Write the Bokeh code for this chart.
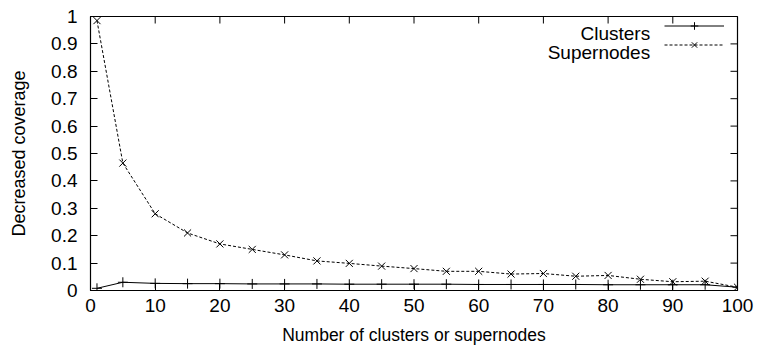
import math
from bokeh.plotting import figure
from bokeh.models import (ColumnDataSource, FixedTicker, Range1d,
                          Legend, LegendItem, Label)
from bokeh.embed import file_html
from bokeh.resources import INLINE

# ---- data ----
sizes = [1, 5, 10, 15, 20, 25, 30, 35, 40, 45, 50, 55, 60, 65, 70, 75, 80, 85, 90, 95, 100]
clusters = [0.008, 0.030, 0.026, 0.025, 0.025, 0.024, 0.024, 0.024, 0.023, 0.023, 0.023,
            0.023, 0.022, 0.022, 0.022, 0.022, 0.021, 0.021, 0.021, 0.021, 0.012]
supernodes = [0.985, 0.465, 0.280, 0.210, 0.170, 0.150, 0.130, 0.108, 0.099, 0.089, 0.080,
              0.070, 0.070, 0.060, 0.062, 0.052, 0.055, 0.041, 0.032, 0.034, 0.012]
series_names = ["Clusters", "Supernodes"]
x_ticks = [0, 10, 20, 30, 40, 50, 60, 70, 80, 90, 100]
x_tick_labels = ["0", "10", "20", "30", "40", "50", "60", "70", "80", "90", "100"]
y_ticks = [0, 0.1, 0.2, 0.3, 0.4, 0.5, 0.6, 0.7, 0.8, 0.9, 1]
y_tick_labels = ["0", "0.1", "0.2", "0.3", "0.4", "0.5", "0.6", "0.7", "0.8", "0.9", "1"]
x_title = "Number of clusters or supernodes"
y_title = "Decreased coverage"

FONT = "Liberation Sans"
TICK_FS = "19px"

src = ColumnDataSource(dict(x=sizes, c=clusters, s=supernodes))

p = figure(width=757, height=347, output_backend="svg", toolbar_location=None,
           x_range=Range1d(0, 100), y_range=Range1d(0, 1),
           min_border_left=90, min_border_right=20, min_border_top=16, min_border_bottom=56)
p.background_fill_color = "white"
p.border_fill_color = "white"
p.outline_line_color = "black"
p.outline_line_width = 1.2
p.grid.visible = False

for ax in (p.xaxis[0], p.yaxis[0]):
    ax.major_tick_in = 7
    ax.major_tick_out = 0
    ax.minor_tick_line_color = None
    ax.axis_line_color = "black"
    ax.major_tick_line_color = "black"
    ax.major_label_text_font = FONT
    ax.major_label_text_font_size = TICK_FS
    ax.major_label_text_color = "black"
    ax.axis_label_text_font = FONT
    ax.axis_label_text_font_style = "normal"
    ax.axis_label_text_color = "black"

p.xaxis[0].ticker = FixedTicker(ticks=x_ticks)
p.xaxis[0].major_label_overrides = dict(zip(x_ticks, x_tick_labels))
p.xaxis[0].axis_label = x_title
p.xaxis[0].axis_label_text_font_size = "17.5px"
p.xaxis[0].major_label_standoff = 8
p.xaxis[0].axis_label_standoff = 10

p.yaxis[0].ticker = FixedTicker(ticks=y_ticks)
p.yaxis[0].major_label_overrides = dict(zip(y_ticks, y_tick_labels))
p.yaxis[0].axis_label = y_title
p.yaxis[0].axis_label_text_font_size = "18px"
p.yaxis[0].major_label_standoff = 13
p.yaxis[0].axis_label_standoff = 19

# mirrored tick marks on the top and right edges (inward, like gnuplot)
p.ray(x=x_ticks, y=[1] * len(x_ticks), length=7, length_units="screen",
      angle=-math.pi / 2, line_color="black", line_width=1)
p.ray(x=[100] * len(y_ticks), y=y_ticks, length=7, length_units="screen",
      angle=math.pi, line_color="black", line_width=1)

# series
rc_line = p.line("x", "c", source=src, line_color="black", line_width=1)
rc_mark = p.scatter("x", "c", source=src, marker="cross", size=10, line_color="black", line_width=1)
rs_line = p.line("x", "s", source=src, line_color="black", line_width=1, line_dash="3 2")
rs_mark = p.scatter("x", "s", source=src, marker="x", size=10, line_color="black", line_width=1)

# gnuplot-style key: sample to the right of right-aligned text
legend = Legend(items=[LegendItem(label="", renderers=[rc_line, rc_mark]),
                       LegendItem(label="", renderers=[rs_line, rs_mark])],
                location="top_right", margin=0, padding=7, spacing=0,
                glyph_width=60, glyph_height=19, label_standoff=13, label_width=0,
                label_height=19, border_line_color=None, background_fill_alpha=0)
p.add_layout(legend, "center")

for name, yv in zip(series_names, [0.938, 0.869]):
    p.add_layout(Label(x=86.5, y=yv, text=name, text_align="right", text_baseline="middle",
                       text_font=FONT, text_font_size=TICK_FS, text_color="black"))

open("out.html", "w").write(file_html(p, INLINE))
